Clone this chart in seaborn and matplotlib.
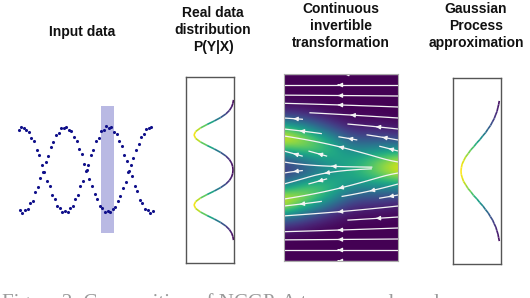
import numpy as np
import matplotlib
matplotlib.use("Agg")
import matplotlib.pyplot as plt
import seaborn as sns
from matplotlib.collections import LineCollection

sns.set_style("white")
plt.rcParams['font.family'] = ['Liberation Sans', 'DejaVu Sans']

# ---- input data: two noisy crossing waves ----
x_a = [-0.08, -0.02, 0.04, 0.10, 0.16, 0.22, 0.28, 0.34, 0.40, 0.46, 0.52, 0.58, 0.64,
       0.70, 0.76, 0.82, 0.88, 0.94, 1.00, 1.06, 1.12, 1.18, 1.24, 1.30, 1.36, 1.42,
       1.48, 1.54, 1.60, 1.66, 1.72, 1.78, 1.84, 1.90, 1.96, 2.02, 2.08, 2.14, 2.20,
       2.26, 2.32, 2.38, 2.44, 2.50, 2.56, 2.62, 2.68, 2.74, 2.80, 2.86, 2.92, 2.98, 3.04]
y_a = [0.94, 1.01, 0.97, 0.93, 0.89, 0.74, 0.66, 0.45, 0.33, 0.10, -0.05, -0.28, -0.40,
       -0.61, -0.70, -0.87, -0.91, -1.00, -0.97, -1.01, -0.90, -0.86, -0.70, -0.61, -0.40,
       -0.27, -0.04, 0.10, 0.33, 0.46, 0.66, 0.75, 0.90, 0.93, 1.02, 0.97, 0.99, 0.88,
       0.83, 0.66, 0.56, 0.34, 0.21, -0.03, -0.16, -0.39, -0.51, -0.71, -0.79, -0.93,
       -0.95, -1.02, -0.97]
x_b = [-0.05, 0.01, 0.07, 0.13, 0.19, 0.25, 0.31, 0.37, 0.43, 0.49, 0.55, 0.61, 0.67,
       0.73, 0.79, 0.85, 0.91, 0.97, 1.03, 1.09, 1.15, 1.21, 1.27, 1.33, 1.39, 1.45,
       1.51, 1.57, 1.63, 1.69, 1.75, 1.81, 1.87, 1.93, 1.99, 2.05, 2.11, 2.17, 2.23,
       2.29, 2.35, 2.41, 2.47, 2.53, 2.59, 2.65, 2.71, 2.77, 2.83, 2.89, 2.95, 3.01]
y_b = [-0.96, -1.03, -0.95, -0.93, -0.80, -0.73, -0.54, -0.41, -0.20, -0.06, 0.17, 0.31,
       0.53, 0.64, 0.81, 0.87, 0.98, 0.97, 1.01, 0.94, 0.90, 0.76, 0.68, 0.48, 0.36,
       0.13, -0.01, -0.23, -0.38, -0.58, -0.69, -0.85, -0.90, -0.99, -0.98, -1.01,
       -0.92, -0.88, -0.73, -0.63, -0.43, -0.30, -0.07, 0.11, 0.26, 0.47, 0.59, 0.77,
       0.84, 0.96, 0.97, 1.01]
band_x = (1.84, 2.14)
band_y = (-1.5, 1.5)

# ---- conditional densities (top to bottom) ----
dens_real = [0.012, 0.028, 0.059, 0.115, 0.204, 0.331, 0.493, 0.672, 0.838, 0.957, 1.0,
             0.957, 0.838, 0.672, 0.493, 0.331, 0.204, 0.116, 0.061, 0.033, 0.024,
             0.033, 0.061, 0.116, 0.204, 0.331, 0.493, 0.672, 0.838, 0.957, 1.0,
             0.957, 0.838, 0.672, 0.493, 0.331, 0.204, 0.115, 0.059, 0.028, 0.012]
dens_gp = [0.043, 0.058, 0.080, 0.100, 0.136, 0.168, 0.216, 0.262, 0.325, 0.382, 0.458,
           0.525, 0.607, 0.676, 0.757, 0.818, 0.885, 0.930, 0.971, 0.990, 1.0,
           0.993, 0.967, 0.935, 0.879, 0.824, 0.750, 0.684, 0.600, 0.531, 0.451,
           0.388, 0.318, 0.267, 0.210, 0.172, 0.130, 0.104, 0.076, 0.060, 0.041]

# ---- transformation field: density columns (left -> right), rows top -> bottom ----
heat_cols = [
    [0, 0, 0, 0.03, 0.13, 0.40, 0.82, 0.99, 0.66, 0.30, 0.15, 0.22, 0.48, 0.89, 0.95, 0.56, 0.21, 0.05, 0, 0, 0],
    [0, 0, 0, 0.02, 0.09, 0.28, 0.58, 0.84, 0.77, 0.48, 0.30, 0.42, 0.72, 0.85, 0.64, 0.33, 0.11, 0.02, 0, 0, 0],
    [0, 0, 0, 0, 0.03, 0.12, 0.31, 0.55, 0.67, 0.60, 0.50, 0.57, 0.67, 0.58, 0.36, 0.14, 0.04, 0, 0, 0, 0],
    [0, 0, 0, 0, 0.01, 0.03, 0.11, 0.26, 0.43, 0.56, 0.61, 0.58, 0.47, 0.30, 0.13, 0.04, 0.01, 0, 0, 0, 0],
    [0, 0, 0, 0, 0.01, 0.04, 0.13, 0.28, 0.49, 0.70, 0.79, 0.70, 0.49, 0.28, 0.13, 0.04, 0.01, 0, 0, 0, 0],
    [0, 0, 0, 0, 0, 0.02, 0.08, 0.24, 0.52, 0.85, 1.0, 0.85, 0.52, 0.24, 0.08, 0.02, 0, 0, 0, 0, 0],
]
# vertical drift of the flow per row (flow moves right -> left)
flow_v = [0, 0, 0, -0.015, -0.03, -0.045, -0.07, -0.11, -0.16, -0.18, 0,
          0.18, 0.16, 0.11, 0.07, 0.045, 0.03, 0.015, 0, 0, 0]

W, H = 530, 298
fig = plt.figure(figsize=(W / 100, H / 100), dpi=100)


def px_axes(x0, y0, x1, y1):
    return fig.add_axes([x0 / W, 1 - y1 / H, (x1 - x0) / W, (y1 - y0) / H])


# panel 1: input data
ax1 = px_axes(10, 100, 165, 240)
ax1.axvspan(band_x[0], band_x[1], ymin=(band_y[0] + 1.659) / 3.294,
            ymax=(band_y[1] + 1.659) / 3.294, color='#b9b9e3', lw=0, zorder=0)
sns.scatterplot(x=x_a + x_b, y=y_a + y_b, ax=ax1, color='#10108a', s=5,
                linewidth=0, zorder=2)
ax1.set_xlim(-0.279, 3.326)
ax1.set_ylim(-1.659, 1.635)
ax1.axis('off')


def density_panel(ax, dens):
    y = np.linspace(1.13, -1.13, len(dens))
    d = np.array(dens)
    pts = np.column_stack([d, y]).reshape(-1, 1, 2)
    segs = np.concatenate([pts[:-1], pts[1:]], axis=1)
    lc = LineCollection(segs, cmap='viridis', norm=plt.Normalize(0, 1), linewidth=1.2)
    lc.set_array((d[:-1] + d[1:]) / 2)
    ax.add_collection(lc)
    ax.set_xlim(1.2, 0)
    ax.set_ylim(-1.5, 1.5)
    ax.set_xticks([])
    ax.set_yticks([])
    for sp in ax.spines.values():
        sp.set_color('#555555')
        sp.set_linewidth(1.0)


ax2 = px_axes(186, 77, 234, 263)
density_panel(ax2, dens_real)

ax4 = px_axes(453, 78, 501, 264)
density_panel(ax4, dens_gp)

# panel 3: heat map + stream lines
ax3 = px_axes(284, 74, 398, 261)
img = np.array(heat_cols).T
ax3.imshow(img, cmap='viridis', vmin=0, vmax=1, aspect='auto',
           interpolation='bicubic', extent=(-0.1, 1.1, 1.025, -0.025))
gx = np.linspace(0, 1, len(heat_cols))
gy = np.linspace(0, 1, len(flow_v))
U = -np.ones((len(gy), len(gx)))
V = np.tile(np.array(flow_v)[:, None], (1, len(gx)))
ax3.streamplot(gx, gy, U, V, color='#f4f4f4', linewidth=0.9, density=(0.5, 0.62),
               arrowsize=0.6, arrowstyle='-|>')
ax3.set_xlim(0, 1)
ax3.set_ylim(1, 0)
ax3.set_xticks([])
ax3.set_yticks([])
for sp in ax3.spines.values():
    sp.set_color('#aaaaaa')
    sp.set_linewidth(0.8)

# titles
tkw = dict(fontsize=10, fontweight='bold', ha='center', va='center',
           linespacing=1.3, color='#111111')
fig.text(82 / W, 1 - 32 / H, 'Input data', **tkw)
fig.text(213 / W, 1 - 30 / H, 'Real data\ndistribution\nP(Y|X)', **tkw)
fig.text(341 / W, 1 - 26 / H, 'Continuous\ninvertible\ntransformation', **tkw)
fig.text(476 / W, 1 - 26 / H, 'Gaussian\nProcess\napproximation', **tkw)

# caption of the figure, clipped by the bottom edge as in the source
fig.text(2 / W, 1 - 293 / H, 'Figure 2: Composition of NCGP. A toy example and',
         fontsize=15, family='Liberation Serif', color='#9a9a9a', ha='left', va='top')

fig.savefig('out.png', dpi=100)
